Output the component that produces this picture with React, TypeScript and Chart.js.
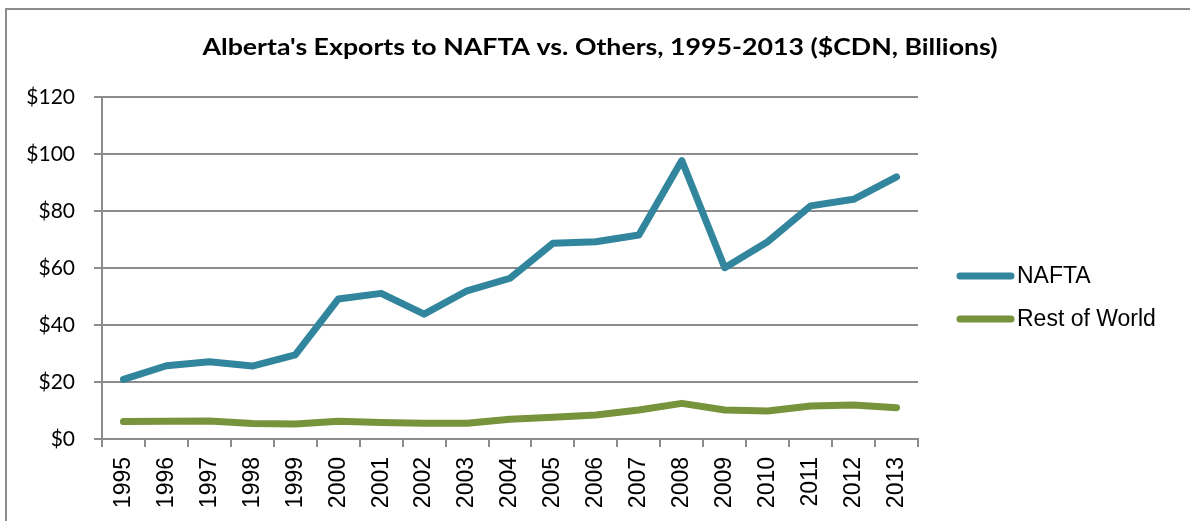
import React, { useEffect, useRef } from "react";
import { Chart, registerables } from "chart.js";

Chart.register(...registerables);

const years = ["1995","1996","1997","1998","1999","2000","2001","2002","2003","2004","2005","2006","2007","2008","2009","2010","2011","2012","2013"];
const naftaValues = [20.9, 25.7, 27.1, 25.6, 29.5, 49.1, 51.1, 43.8, 52.0, 56.4, 68.7, 69.2, 71.6, 97.7, 60.1, 69.2, 81.8, 84.1, 92.0];
const restValues = [6.1, 6.2, 6.3, 5.4, 5.3, 6.2, 5.8, 5.5, 5.5, 6.9, 7.6, 8.4, 10.2, 12.5, 10.2, 9.8, 11.6, 11.9, 11.0];
const seriesLabels = ["NAFTA", "Rest of World"];
const seriesColors = ["#31859C", "#77933C"];
const titleText = "Alberta's Exports to NAFTA vs. Others, 1995-2013 ($CDN, Billions)";

const GRID = "#8c8c8c";

const titlePlugin = {
  id: "wideTitle",
  afterDraw(chart: any) {
    const ctx = chart.ctx;
    ctx.save();
    ctx.font = "bold 23px Lato, 'Open Sans', sans-serif";
    ctx.fillStyle = "#000";
    ctx.textAlign = "center";
    ctx.textBaseline = "middle";
    const w = ctx.measureText(titleText).width;
    const sx = 795 / w;
    ctx.translate(600, 48);
    ctx.scale(sx, 1);
    ctx.fillText(titleText, 0, 0);
    ctx.restore();
  },
};

const legendPlugin = {
  id: "sideLegend",
  afterDraw(chart: any) {
    const ctx = chart.ctx;
    const rows = [276, 319];
    ctx.save();
    chart.data.datasets.forEach((ds: any, i: number) => {
      const y = rows[i];
      ctx.beginPath();
      ctx.strokeStyle = ds.borderColor;
      ctx.lineWidth = 7;
      ctx.lineCap = "round";
      ctx.moveTo(960, y);
      ctx.lineTo(1011, y);
      ctx.stroke();
      ctx.fillStyle = "#000";
      ctx.font = '23px "Liberation Sans", Arial, sans-serif';
      ctx.textAlign = "left";
      ctx.textBaseline = "middle";
      ctx.fillText(ds.label, 1017, y + 1);
    });
    ctx.restore();
  },
};

export default function App() {
  const ref = useRef<HTMLCanvasElement | null>(null);
  useEffect(() => {
    document.body.style.margin = "0";
    document.body.style.overflow = "hidden";
    const canvas = ref.current!;
    const chart = new Chart(canvas, {
      type: "line",
      data: {
        labels: years,
        datasets: [
          { label: seriesLabels[0], data: naftaValues, borderColor: seriesColors[0], backgroundColor: seriesColors[0] },
          { label: seriesLabels[1], data: restValues, borderColor: seriesColors[1], backgroundColor: seriesColors[1] },
        ].map((d) => ({
          ...d,
          borderWidth: 7,
          pointRadius: 0,
          tension: 0,
          borderCapStyle: "round" as const,
          borderJoinStyle: "round" as const,
          fill: false,
        })),
      },
      options: {
        animation: false,
        responsive: false,
        maintainAspectRatio: false,
        layout: { padding: { left: 0, right: 272, top: 97, bottom: 0 } },
        plugins: {
          legend: { display: false },
          tooltip: { enabled: false },
          title: { display: false },
        },
        scales: {
          x: {
            offset: true,
            grid: { display: true, drawOnChartArea: false, drawTicks: true, tickLength: 8, offset: true, color: GRID, lineWidth: 2 },
            border: { display: true, color: GRID, width: 2 },
            ticks: {
              color: "#000",
              minRotation: 90,
              maxRotation: 90,
              autoSkip: false,
              padding: 10,
              font: { family: "'Liberation Sans', Arial, sans-serif", size: 23 },
            },
            afterFit: (s: any) => { s.height = 82; },
          },
          y: {
            min: 0,
            max: 120,
            grid: { color: GRID, lineWidth: 2, tickLength: 8, drawTicks: true },
            border: { display: true, color: GRID, width: 2 },
            ticks: {
              stepSize: 20,
              color: "#000",
              padding: 19,
              font: { family: "Lato, 'Open Sans', sans-serif", size: 21 },
              callback: (v: any) => "$" + v,
            },
            afterFit: (s: any) => { s.width = 102; },
          },
        },
      },
      plugins: [titlePlugin, legendPlugin],
    } as any);
    return () => chart.destroy();
  }, []);

  return (
    <div style={{ position: "relative", width: 1190, height: 521, overflow: "hidden", background: "#fff" }}>
      <div
        style={{
          position: "absolute",
          left: 5,
          top: 8,
          width: 1185,
          height: 513,
          boxSizing: "border-box",
          borderTop: "2px solid #8c8c8c",
          borderLeft: "2px solid #8c8c8c",
        }}
      />
      <canvas
        ref={ref}
        width={1190}
        height={521}
        style={{ position: "absolute", left: 0, top: 0, width: 1190, height: 521 }}
      />
    </div>
  );
}
